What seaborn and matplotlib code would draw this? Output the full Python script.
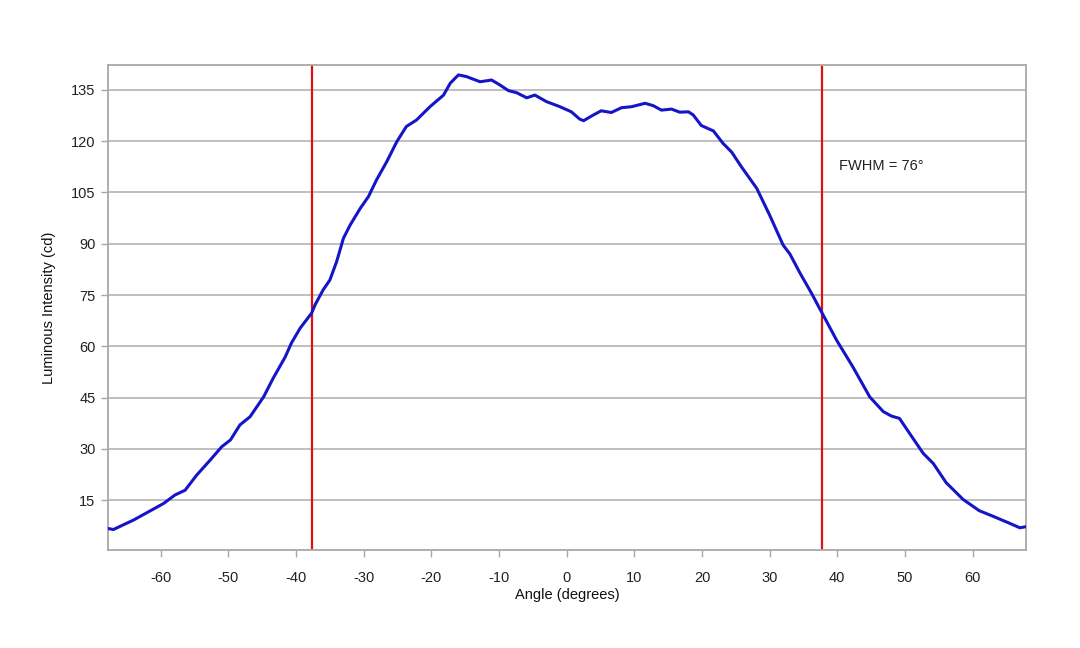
import matplotlib
matplotlib.use("Agg")
import matplotlib.pyplot as plt
import seaborn as sns
import pandas as pd

angles = [-67.8, -67.0, -64.0, -59.6, -57.9, -56.4, -54.7, -52.7, -51.0, -49.7,
          -48.3, -46.8, -44.8, -43.4, -41.6, -40.7, -39.4, -37.7, -37.2, -36.0,
          -35.0, -34.0, -33.0, -32.0, -30.5, -29.3, -28.1, -26.6, -25.1, -23.7,
          -22.2, -20.2, -18.2, -17.2, -16.0, -14.8, -12.8, -11.1, -9.9, -8.6,
          -7.4, -5.9, -4.7, -3.0, -1.0, 0.7, 1.9, 2.5, 3.7, 5.1,
          6.6, 8.1, 9.6, 11.6, 12.8, 14.0, 15.5, 16.7, 18.0, 18.7,
          19.9, 21.7, 23.1, 24.4, 25.8, 28.1, 30.0, 32.0, 33.0, 34.5,
          36.2, 37.9, 39.9, 42.3, 44.8, 46.8, 48.0, 49.2, 50.7, 52.7,
          54.2, 56.1, 58.6, 61.0, 63.0, 65.5, 67.0, 67.8]
intensity = [6.7, 6.4, 9.2, 14.0, 16.5, 17.9, 22.3, 26.7, 30.6, 32.6,
             37.0, 39.4, 45.2, 50.6, 56.9, 60.9, 65.3, 69.7, 72.1, 76.5,
             79.4, 84.8, 91.6, 95.5, 100.4, 103.8, 108.7, 114.0, 119.9, 124.3,
             126.2, 130.1, 133.5, 137.0, 139.4, 138.9, 137.4, 137.9, 136.5, 134.8,
             134.2, 132.7, 133.5, 131.6, 130.1, 128.6, 126.5, 126.0, 127.4, 128.9,
             128.4, 129.8, 130.1, 131.1, 130.4, 129.1, 129.4, 128.5, 128.6, 127.7,
             124.6, 123.0, 119.4, 116.8, 112.6, 106.2, 98.4, 89.6, 87.0, 81.4,
             75.5, 69.2, 61.8, 54.0, 45.2, 40.9, 39.6, 38.9, 34.5, 28.7,
             25.7, 20.1, 15.2, 11.9, 10.3, 8.2, 6.9, 7.2]
fwhm_edges = [-37.7, 37.8]
x_ticks = [-60, -50, -40, -30, -20, -10, 0, 10, 20, 30, 40, 50, 60]
y_ticks = [15, 30, 45, 60, 75, 90, 105, 120, 135]
annotation = "FWHM = 76°"

sns.set_style("white")
plt.rcParams['font.family'] = ['Liberation Sans', 'DejaVu Sans']
plt.rcParams['axes.unicode_minus'] = False

df = pd.DataFrame({"Angle": angles, "Intensity": intensity})

fig = plt.figure(figsize=(10.8, 6.48), dpi=100)
ax = fig.add_axes([0.1, 0.1512, 0.85, 0.7485])

ax.set_xlim(-67.8, 67.9)
ax.set_ylim(0.4, 142.3)
ax.set_yticks(y_ticks)
ax.set_xticks(x_ticks)
ax.grid(axis='y', color='#b4b4b4', linewidth=1.2)
ax.set_axisbelow(True)

for xe in fwhm_edges:
    ax.axvline(xe, color='#dd1111', linewidth=1.6, zorder=2)

sns.lineplot(data=df, x="Angle", y="Intensity", ax=ax, color='#1515c8',
             linewidth=2.2, sort=False, estimator=None, zorder=3,
             solid_joinstyle='round', solid_capstyle='round')

ax.text(40.3, 112.7, annotation, fontsize=10.5, color='#222222',
        ha='left', va='center')

for s in ax.spines.values():
    s.set_color('#a8a8a8')
    s.set_linewidth(1.3)

ax.tick_params(axis='both', which='both', direction='out', length=5,
               width=1, color='#a8a8a8', labelsize=10.5, labelcolor='#222222',
               left=True, bottom=True)
ax.tick_params(axis='x', pad=10)
ax.tick_params(axis='y', pad=4)
ax.set_xlabel("Angle (degrees)", fontsize=10.5, color='#111111', labelpad=2)
ax.set_ylabel("Luminous Intensity (cd)", fontsize=10.5, color='#111111', labelpad=11)

fig.savefig("out.png", dpi=100, facecolor='white')
